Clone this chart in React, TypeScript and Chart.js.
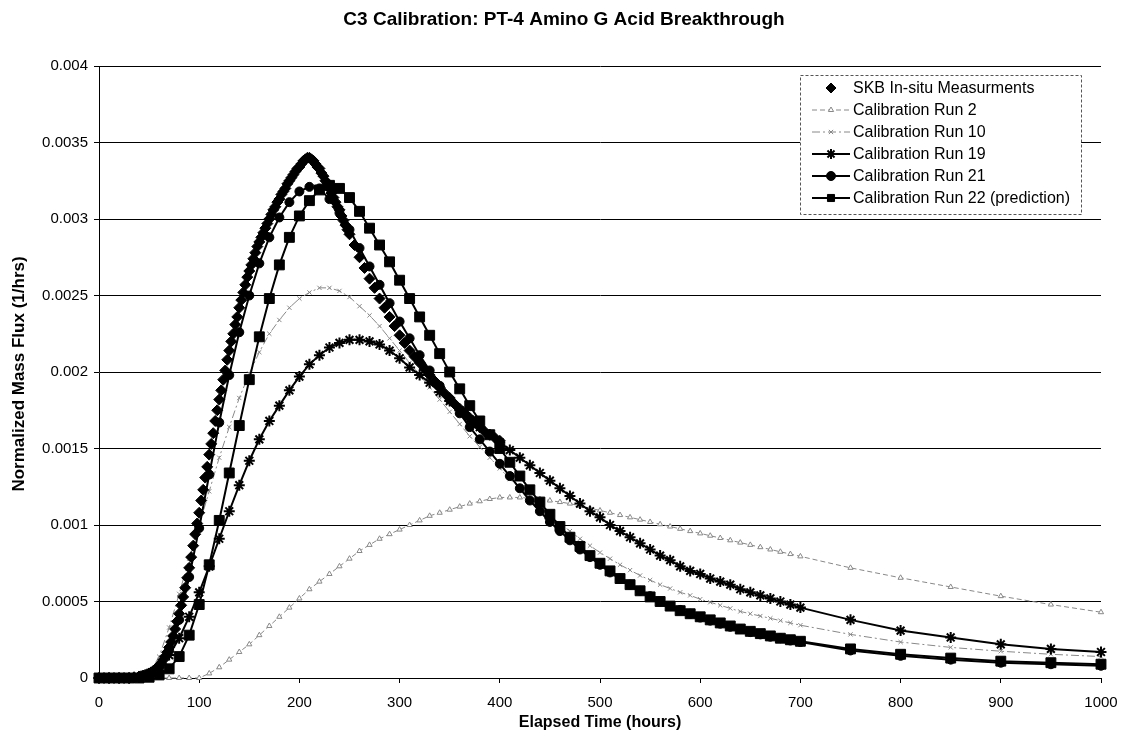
import React, { useEffect, useRef } from 'react';
import { Chart, registerables } from 'chart.js';

Chart.register(...registerables);

const TITLE = 'C3 Calibration: PT-4 Amino G Acid Breakthrough';
const X_TITLE = 'Elapsed Time (hours)';
const Y_TITLE = 'Normalized Mass Flux (1/hrs)';

// y values are stored in units of 1e-3 (1/hrs); tick labels give the real values
const yTickLabels = ['0', '0.0005', '0.001', '0.0015', '0.002', '0.0025', '0.003', '0.0035', '0.004'];
const xTickLabels = ['0', '100', '200', '300', '400', '500', '600', '700', '800', '900', '1000'];

const simHours = [
  0, 10, 20, 30, 40, 50, 60, 70, 80, 90, 100,
  110, 120, 130, 140, 150, 160, 170, 180, 190, 200,
  210, 220, 230, 240, 250, 260, 270, 280, 290, 300,
  310, 320, 330, 340, 350, 360, 370, 380, 390, 400,
  410, 420, 430, 440, 450, 460, 470, 480, 490, 500,
  510, 520, 530, 540, 550, 560, 570, 580, 590, 600,
  610, 620, 630, 640, 650, 660, 670, 680, 690, 700,
  750, 800, 850, 900, 950, 1000,
];

const run2 = [
  0, 0, 0, 0, 0, 0, 0, 0, 0, 0, 0,
  0.03, 0.07, 0.12, 0.17, 0.22, 0.28, 0.34, 0.40, 0.46, 0.52,
  0.58, 0.63, 0.68, 0.73, 0.78, 0.83, 0.87, 0.91, 0.94, 0.97,
  1.0, 1.03, 1.06, 1.08, 1.1, 1.12, 1.14, 1.155, 1.17, 1.18,
  1.18, 1.18, 1.175, 1.17, 1.16, 1.15, 1.14, 1.125, 1.11, 1.095,
  1.08, 1.065, 1.05, 1.035, 1.02, 1.005, 0.99, 0.975, 0.96, 0.945,
  0.93, 0.915, 0.9, 0.885, 0.87, 0.855, 0.84, 0.825, 0.81, 0.795,
  0.72, 0.655, 0.595, 0.535, 0.48, 0.43,
];

const run10 = [
  0, 0, 0, 0, 0.005, 0.03, 0.14, 0.33, 0.55, 0.78, 1.0,
  1.22, 1.44, 1.64, 1.83, 1.99, 2.13, 2.25, 2.34, 2.42, 2.48,
  2.52, 2.55, 2.55, 2.53, 2.49, 2.43, 2.37, 2.3, 2.22, 2.14,
  2.06, 1.98, 1.9, 1.82, 1.74, 1.66, 1.58, 1.51, 1.44, 1.37,
  1.3, 1.24, 1.18, 1.12, 1.06, 1.01, 0.96, 0.91, 0.865, 0.82,
  0.78, 0.74, 0.705, 0.67, 0.64, 0.61, 0.585, 0.56, 0.54, 0.515,
  0.495, 0.475, 0.455, 0.435, 0.42, 0.405, 0.39, 0.375, 0.36, 0.345,
  0.285, 0.235, 0.2, 0.175, 0.155, 0.14,
];

const run19 = [
  0, 0, 0, 0, 0.003, 0.02, 0.07, 0.15, 0.26, 0.4, 0.56,
  0.73, 0.91, 1.09, 1.26, 1.42, 1.56, 1.68, 1.78, 1.88, 1.97,
  2.05, 2.11, 2.16, 2.19, 2.21, 2.21, 2.2, 2.18, 2.14, 2.09,
  2.03, 1.98, 1.93, 1.87, 1.81, 1.75, 1.69, 1.64, 1.59, 1.54,
  1.49, 1.44, 1.39, 1.34, 1.29, 1.24, 1.19, 1.14, 1.09, 1.05,
  1.0, 0.96, 0.92, 0.88, 0.84, 0.8, 0.77, 0.73, 0.7, 0.68,
  0.65, 0.63, 0.61, 0.58, 0.56, 0.54, 0.52, 0.5, 0.48, 0.46,
  0.38, 0.31, 0.265, 0.22, 0.19, 0.17,
];

const run21 = [
  0, 0, 0, 0, 0.005, 0.02, 0.07, 0.18, 0.38, 0.66, 0.98,
  1.33, 1.67, 1.98, 2.26, 2.5, 2.71, 2.88, 3.01, 3.11, 3.18,
  3.21, 3.2, 3.13, 3.04, 2.93, 2.81, 2.69, 2.57, 2.45, 2.33,
  2.22, 2.11, 2.01, 1.91, 1.82, 1.73, 1.64, 1.56, 1.48, 1.4,
  1.32, 1.24, 1.16, 1.09, 1.02, 0.96, 0.9, 0.84, 0.79, 0.74,
  0.69, 0.65, 0.61, 0.57, 0.535, 0.5, 0.47, 0.445, 0.42, 0.395,
  0.375, 0.355, 0.335, 0.32, 0.3, 0.285, 0.27, 0.26, 0.245, 0.235,
  0.18, 0.145, 0.12, 0.1, 0.09, 0.08,
];

const run22 = [
  0, 0, 0, 0, 0, 0.005, 0.02, 0.06, 0.14, 0.28, 0.48,
  0.74, 1.03, 1.34, 1.65, 1.95, 2.23, 2.48, 2.7, 2.88, 3.02,
  3.12, 3.19, 3.22, 3.2, 3.14, 3.05, 2.94, 2.83, 2.72, 2.6,
  2.48, 2.36, 2.24, 2.12, 2.0, 1.89, 1.78, 1.68, 1.59, 1.5,
  1.41, 1.32, 1.23, 1.15, 1.07, 0.99, 0.92, 0.86, 0.8, 0.75,
  0.7, 0.65, 0.61, 0.57, 0.53, 0.5, 0.47, 0.44, 0.42, 0.4,
  0.38, 0.36, 0.34, 0.32, 0.305, 0.29, 0.275, 0.26, 0.25, 0.24,
  0.19, 0.155, 0.13, 0.11, 0.1, 0.09,
];

const skbHours = [
  0, 5, 10, 15, 20, 25, 30, 35,
  40, 42, 44, 46, 48, 50, 52, 54, 56, 58, 60, 62, 64, 66, 68, 70, 72, 74, 76, 78,
  80, 82, 84, 86, 88, 90, 92, 94, 96, 98, 100, 102, 104, 106, 108, 110, 112, 114, 116, 118,
  120, 122, 124, 126, 128, 130, 132, 134, 136, 138, 140, 142, 144, 146, 148, 150, 152, 154, 156, 158,
  160, 162, 164, 166, 168, 170, 172, 174, 176, 178, 180, 182, 184, 186, 188, 190, 192, 194, 196, 198,
  200, 202, 204, 206, 208, 210, 212, 214, 216, 218, 220, 222, 224, 226, 228, 230, 232, 234, 236, 238,
  240, 242, 244, 246, 248, 250,
  255, 260, 265, 270, 275, 280, 285, 290, 295, 300, 305, 310, 315, 320, 325, 330, 335, 340, 345, 350,
  355, 360, 365, 370, 375, 380, 385, 390, 395, 400,
];

const skb = [
  0, 0, 0, 0, 0, 0, 0, 0.005,
  0.01, 0.012, 0.016, 0.02, 0.025, 0.03, 0.037, 0.045, 0.055, 0.066, 0.08, 0.097, 0.118, 0.14, 0.168, 0.2, 0.235, 0.275, 0.32, 0.37,
  0.42, 0.475, 0.53, 0.59, 0.655, 0.72, 0.79, 0.865, 0.94, 1.01, 1.08, 1.16, 1.23, 1.31, 1.38, 1.46, 1.53, 1.6, 1.68, 1.75,
  1.82, 1.88, 1.95, 2.01, 2.08, 2.14, 2.2, 2.25, 2.31, 2.36, 2.42, 2.47, 2.52, 2.57, 2.62, 2.66, 2.7, 2.74, 2.78, 2.82,
  2.85, 2.88, 2.91, 2.94, 2.97, 3.0, 3.03, 3.06, 3.08, 3.11, 3.13, 3.16, 3.18, 3.2, 3.23, 3.25, 3.27, 3.29, 3.31, 3.33,
  3.34, 3.36, 3.38, 3.39, 3.4, 3.4, 3.39, 3.38, 3.36, 3.34, 3.33, 3.3, 3.28, 3.25, 3.23, 3.2, 3.17, 3.14, 3.11, 3.08,
  3.06, 3.02, 2.99, 2.96, 2.93, 2.9,
  2.83, 2.75, 2.68, 2.61, 2.55, 2.48, 2.42, 2.36, 2.3, 2.24, 2.19, 2.14, 2.1, 2.06, 2.02, 1.98, 1.94, 1.9, 1.86, 1.83,
  1.79, 1.76, 1.73, 1.7, 1.67, 1.64, 1.61, 1.59, 1.57, 1.55,
];

const seriesNames = [
  'SKB In-situ Measurments',
  'Calibration Run 2',
  'Calibration Run 10',
  'Calibration Run 19',
  'Calibration Run 21',
  'Calibration Run 22 (prediction)',
];

const FONT = '"Liberation Sans", Arial, sans-serif';

const pts = (xs: number[], ys: number[]) => xs.map((x, i) => ({ x, y: ys[i] }));

type Sty = {
  line: boolean;
  color: string;
  width: number;
  dash: number[];
  point: string;
  radius: number;
  fill: string;
  pointBorder: string;
  pointBorderWidth: number;
};

const styles: Sty[] = [
  { line: false, color: '#000', width: 0, dash: [], point: 'rectRot', radius: 5.5, fill: '#000', pointBorder: '#000', pointBorderWidth: 1 },
  { line: true, color: '#888', width: 1, dash: [5, 3], point: 'triangle', radius: 3, fill: '#fff', pointBorder: '#888', pointBorderWidth: 1 },
  { line: true, color: '#888', width: 1, dash: [8, 3, 2, 3], point: 'crossRot', radius: 3, fill: '#fff', pointBorder: '#888', pointBorderWidth: 1 },
  { line: true, color: '#000', width: 2, dash: [], point: 'star', radius: 5.5, fill: '#000', pointBorder: '#000', pointBorderWidth: 2 },
  { line: true, color: '#000', width: 2, dash: [], point: 'circle', radius: 4.5, fill: '#000', pointBorder: '#000', pointBorderWidth: 1 },
  { line: true, color: '#000', width: 2, dash: [], point: 'rect', radius: 7, fill: '#000', pointBorder: '#000', pointBorderWidth: 1 },
];

function drawMarker(ctx: CanvasRenderingContext2D, s: Sty, x: number, y: number) {
  const r = s.radius;
  ctx.save();
  ctx.setLineDash([]);
  ctx.fillStyle = s.fill;
  ctx.strokeStyle = s.pointBorder;
  ctx.lineWidth = s.pointBorderWidth;
  ctx.beginPath();
  switch (s.point) {
    case 'rectRot':
      ctx.moveTo(x, y - r);
      ctx.lineTo(x + r, y);
      ctx.lineTo(x, y + r);
      ctx.lineTo(x - r, y);
      ctx.closePath();
      ctx.fill();
      ctx.stroke();
      break;
    case 'triangle': {
      const h = r * 1.5;
      ctx.moveTo(x, y - r);
      ctx.lineTo(x + h * 0.58, y + r * 0.5);
      ctx.lineTo(x - h * 0.58, y + r * 0.5);
      ctx.closePath();
      ctx.fill();
      ctx.stroke();
      break;
    }
    case 'crossRot': {
      const d = r * 0.707;
      ctx.moveTo(x - d, y - d);
      ctx.lineTo(x + d, y + d);
      ctx.moveTo(x + d, y - d);
      ctx.lineTo(x - d, y + d);
      ctx.stroke();
      break;
    }
    case 'star': {
      const d = r * 0.707;
      ctx.moveTo(x - d, y - d);
      ctx.lineTo(x + d, y + d);
      ctx.moveTo(x + d, y - d);
      ctx.lineTo(x - d, y + d);
      ctx.moveTo(x, y - r);
      ctx.lineTo(x, y + r);
      ctx.moveTo(x - r, y);
      ctx.lineTo(x + r, y);
      ctx.stroke();
      break;
    }
    case 'circle':
      ctx.arc(x, y, r, 0, Math.PI * 2);
      ctx.fill();
      ctx.stroke();
      break;
    case 'rect': {
      const d = r * 0.707;
      ctx.rect(x - d, y - d, 2 * d, 2 * d);
      ctx.fill();
      ctx.stroke();
      break;
    }
  }
  ctx.restore();
}

const decorPlugin = {
  id: 'decor',
  afterDraw(chart: any) {
    const ctx: CanvasRenderingContext2D = chart.ctx;
    ctx.save();
    ctx.fillStyle = '#000';
    // main title
    ctx.font = `bold 19px ${FONT}`;
    ctx.textAlign = 'center';
    ctx.textBaseline = 'middle';
    ctx.fillText(TITLE, 564, 20);
    // x title
    ctx.font = `bold 16px ${FONT}`;
    ctx.fillText(X_TITLE, 600, 723);
    // y title
    ctx.save();
    ctx.font = `bold 17px ${FONT}`;
    ctx.translate(19, 374);
    ctx.rotate(-Math.PI / 2);
    ctx.fillText(Y_TITLE, 0, 0);
    ctx.restore();

    // legend
    const lx = 800, ly = 75, lw = 281, lh = 139;
    ctx.fillStyle = '#fff';
    ctx.fillRect(lx, ly, lw, lh);
    ctx.strokeStyle = '#555';
    ctx.lineWidth = 1;
    ctx.setLineDash([3, 2]);
    ctx.strokeRect(lx + 0.5, ly + 0.5, lw, lh);
    ctx.setLineDash([]);
    ctx.font = `16px ${FONT}`;
    ctx.textAlign = 'left';
    ctx.textBaseline = 'middle';
    seriesNames.forEach((name, i) => {
      const y = 88 + 22 * i;
      const s = styles[i];
      if (s.line) {
        ctx.save();
        ctx.strokeStyle = s.color;
        ctx.lineWidth = s.width;
        ctx.setLineDash(s.dash);
        ctx.beginPath();
        ctx.moveTo(812, y);
        ctx.lineTo(850, y);
        ctx.stroke();
        ctx.restore();
      }
      drawMarker(ctx, { ...s, radius: Math.min(s.radius, 5) }, 831, y);
      ctx.fillStyle = '#000';
      ctx.fillText(name, 853, y + 1);
    });
    ctx.restore();
  },
};

export default function App() {
  const ref = useRef<HTMLCanvasElement | null>(null);

  useEffect(() => {
    document.body.style.margin = '0';
    const canvas = ref.current;
    if (!canvas) return;

    const ys = [skb, run2, run10, run19, run21, run22];
    const xs = [skbHours, simHours, simHours, simHours, simHours, simHours];
    const orders = [1, 10, 9, 3, 2, 1];

    const datasets = seriesNames.map((name, i) => {
      const s = styles[i];
      return {
        label: name,
        data: pts(xs[i], ys[i]),
        showLine: s.line,
        borderColor: s.color,
        borderWidth: s.width,
        borderDash: s.dash,
        pointStyle: s.point,
        pointRadius: s.radius,
        pointBackgroundColor: s.fill,
        pointBorderColor: s.pointBorder,
        pointBorderWidth: s.pointBorderWidth,
        pointHoverRadius: s.radius,
        tension: 0,
        fill: false,
        clip: false,
        order: orders[i],
      };
    });

    const chart = new Chart(canvas, {
      type: 'line',
      data: { datasets },
      options: {
        responsive: false,
        animation: false,
        maintainAspectRatio: false,
        layout: { padding: { top: 66, right: 21, bottom: 0, left: 0 } },
        plugins: {
          legend: { display: false },
          title: { display: false },
          tooltip: { enabled: false },
        },
        scales: {
          x: {
            type: 'linear',
            min: 0,
            max: 1000,
            afterFit: (scale: any) => {
              scale.height = 64;
              scale.paddingLeft = 0;
              scale.paddingRight = 0;
            },
            ticks: {
              stepSize: 100,
              color: '#000',
              font: { family: FONT, size: 15 },
              padding: 11,
              maxRotation: 0,
              callback: (v: any) => xTickLabels[Math.round(Number(v) / 100)] ?? '',
            },
            grid: { drawOnChartArea: false, drawTicks: true, tickLength: 5, color: '#000', lineWidth: 1 },
            border: { display: true, color: '#000', width: 1 },
          },
          y: {
            type: 'linear',
            min: 0,
            max: 4,
            afterFit: (scale: any) => {
              scale.width = 99;
              scale.paddingTop = 0;
              scale.paddingBottom = 0;
            },
            ticks: {
              stepSize: 0.5,
              color: '#000',
              font: { family: FONT, size: 15 },
              padding: 6,
              callback: (v: any) => yTickLabels[Math.round(Number(v) / 0.5)] ?? '',
            },
            grid: { drawOnChartArea: true, drawTicks: true, tickLength: 5, color: '#000', lineWidth: 1 },
            border: { display: true, color: '#000', width: 1 },
          },
        },
      },
      plugins: [decorPlugin],
    } as any);

    return () => chart.destroy();
  }, []);

  return (
    <div style={{ width: 1122, height: 742, background: '#fff' }}>
      <canvas ref={ref} width={1122} height={742} style={{ display: 'block' }} />
    </div>
  );
}
